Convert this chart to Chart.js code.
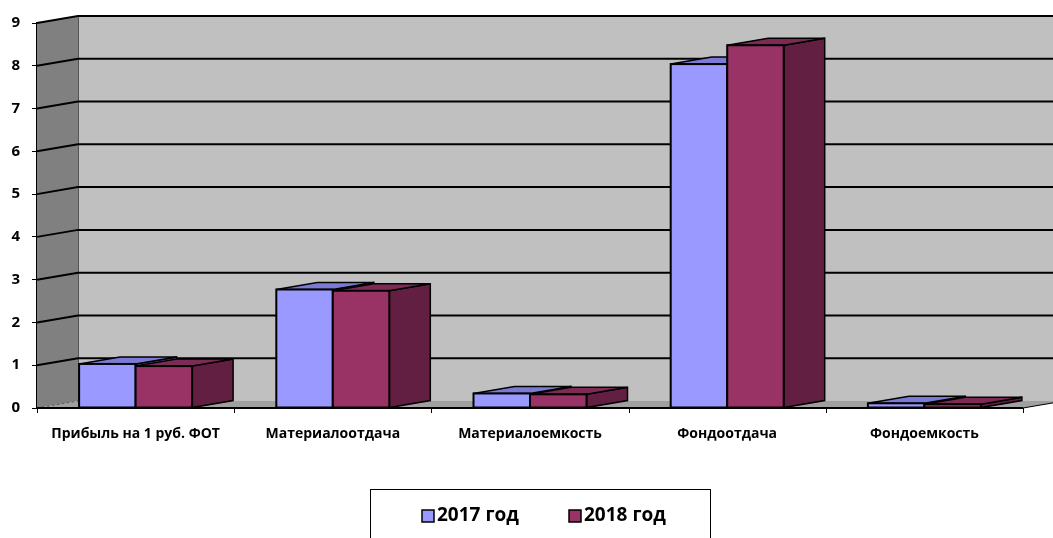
<!DOCTYPE html>
<html>
<head>
<meta charset="utf-8">
<script src="https://cdn.jsdelivr.net/npm/chart.js@4.4.0/dist/chart.umd.min.js"></script>
<style>
html,body{margin:0;padding:0;background:#fff;}
#wrap{width:1053px;height:538px;position:relative;}
</style>
</head>
<body>
<div id="wrap"><canvas id="c" width="1053" height="538"></canvas></div>
<script>
const categories = ['Прибыль на 1 руб. ФОТ', 'Материалоотдача', 'Материалоемкость', 'Фондоотдача', 'Фондоемкость'];
const values2017 = [1.03, 2.77, 0.34, 8.04, 0.11];
const values2018 = [0.98, 2.74, 0.32, 8.48, 0.09];
const seriesLabels = ['2017 год', '2018 год'];
const yTicks = [0, 1, 2, 3, 4, 5, 6, 7, 8, 9];

const FONT = '"Open Sans", "DejaVu Sans", sans-serif';
const DX = 41, DY = -7;
const faces = [
  {front: '#9999FF', top: '#7B7BD6', side: '#5E5EA8'},
  {front: '#993366', top: '#7D2A55', side: '#621F42'}
];

const walls = {
  id: 'walls',
  beforeDatasetsDraw(chart) {
    const ctx = chart.ctx;
    const {left: L, right: R, top: T, bottom: B} = chart.chartArea;
    const W = chart.width;
    const ys = chart.scales.y;
    ctx.save();
    ctx.fillStyle = '#C0C0C0';
    ctx.fillRect(L + DX, T + DY, W - (L + DX), B - T);
    ctx.fillStyle = '#808080';
    ctx.beginPath();
    ctx.moveTo(L, T); ctx.lineTo(L + DX, T + DY); ctx.lineTo(L + DX, B + DY); ctx.lineTo(L, B);
    ctx.closePath(); ctx.fill();
    ctx.fillStyle = '#A0A0A0';
    ctx.beginPath();
    ctx.moveTo(L, B); ctx.lineTo(L + DX, B + DY); ctx.lineTo(R + DX, B + DY); ctx.lineTo(R, B);
    ctx.closePath(); ctx.fill();
    ctx.strokeStyle = '#555';
    ctx.lineWidth = 1;
    ctx.beginPath(); ctx.moveTo(L + DX + 0.5, T + DY); ctx.lineTo(L + DX + 0.5, B + DY); ctx.stroke();
    ctx.setLineDash([3, 2]);
    ctx.strokeStyle = '#5a5a5a';
    ctx.beginPath(); ctx.moveTo(L, B); ctx.lineTo(L + DX, B + DY); ctx.stroke();
    ctx.setLineDash([]);
    ctx.strokeStyle = '#000';
    ctx.lineWidth = 2;
    yTicks.forEach(v => {
      if (v === 0) return;
      const y = ys.getPixelForValue(v);
      ctx.beginPath();
      ctx.moveTo(L, y); ctx.lineTo(L + DX, y + DY); ctx.lineTo(W, y + DY);
      ctx.stroke();
    });
    ctx.beginPath(); ctx.moveTo(L, B); ctx.lineTo(R, B); ctx.stroke();
    ctx.lineWidth = 1;
    ctx.beginPath(); ctx.moveTo(R, B); ctx.lineTo(R + DX, B + DY); ctx.stroke();
    const n = categories.length;
    const cw = (R - L) / n;
    for (let i = 0; i <= n; i++) {
      const x = Math.round(L + i * cw) + 0.5;
      ctx.beginPath(); ctx.moveTo(x, B); ctx.lineTo(x, B + 5); ctx.stroke();
    }
    ctx.restore();
  },
  afterDatasetsDraw(chart) {
    const ctx = chart.ctx;
    ctx.save();
    ctx.lineJoin = 'miter';
    const n = categories.length;
    for (let i = 0; i < n; i++) {
      chart.data.datasets.forEach((ds, d) => {
        const el = chart.getDatasetMeta(d).data[i];
        const x0 = el.x - el.width / 2, x1 = el.x + el.width / 2;
        const yT = el.y, yB = el.base;
        const f = faces[d];
        ctx.strokeStyle = '#000';
        ctx.lineWidth = 1.5;
        ctx.fillStyle = f.side;
        ctx.beginPath();
        ctx.moveTo(x1, yT); ctx.lineTo(x1 + DX, yT + DY); ctx.lineTo(x1 + DX, yB + DY); ctx.lineTo(x1, yB);
        ctx.closePath(); ctx.fill(); ctx.stroke();
        ctx.fillStyle = f.top;
        ctx.beginPath();
        ctx.moveTo(x0, yT); ctx.lineTo(x0 + DX, yT + DY); ctx.lineTo(x1 + DX, yT + DY); ctx.lineTo(x1, yT);
        ctx.closePath(); ctx.fill(); ctx.stroke();
        ctx.fillStyle = f.front;
        ctx.fillRect(x0, yT, x1 - x0, yB - yT);
        ctx.lineWidth = 2;
        ctx.strokeRect(x0, yT, x1 - x0, yB - yT);
      });
    }
    ctx.restore();
  },
  afterDraw(chart) {
    const ctx = chart.ctx;
    ctx.save();
    ctx.strokeStyle = '#000';
    ctx.lineWidth = 1;
    ctx.strokeRect(370.5, 489.5, 340, 60);
    const items = [{sq: 422, tx: 437}, {sq: 569, tx: 584}];
    ctx.font = 'bold 19px ' + FONT;
    ctx.textBaseline = 'middle';
    ctx.textAlign = 'left';
    chart.data.datasets.forEach((ds, d) => {
      const it = items[d];
      ctx.fillStyle = ds.backgroundColor;
      ctx.fillRect(it.sq, 510, 12, 12);
      ctx.lineWidth = 1.5;
      ctx.strokeRect(it.sq, 510, 12, 12);
      ctx.fillStyle = '#000';
      ctx.fillText(ds.label, it.tx, 516);
    });
    ctx.restore();
  }
};

new Chart(document.getElementById('c'), {
  type: 'bar',
  data: {
    labels: categories,
    datasets: [
      {label: seriesLabels[0], data: values2017, backgroundColor: faces[0].front, borderWidth: 0},
      {label: seriesLabels[1], data: values2018, backgroundColor: faces[1].front, borderWidth: 0}
    ]
  },
  options: {
    responsive: false,
    animation: false,
    events: [],
    layout: {padding: {top: 23, right: 30, left: 0, bottom: 0}},
    plugins: {legend: {display: false}, tooltip: {enabled: false}},
    datasets: {bar: {categoryPercentage: 0.573, barPercentage: 1.0}},
    scales: {
      x: {
        grid: {display: false},
        border: {display: false},
        ticks: {color: '#000', font: {family: FONT, size: 14, weight: 'bold'}, padding: 10, maxRotation: 0, autoSkip: false},
        afterFit(s) { s.height = 130; }
      },
      y: {
        min: 0, max: 9,
        grid: {display: true, drawOnChartArea: false, drawTicks: true, tickLength: 5, color: '#000', lineWidth: 1},
        border: {display: true, color: '#000', width: 2},
        ticks: {stepSize: 1, color: '#000', font: {family: FONT, size: 15, weight: 'bold'}, padding: 12},
        afterFit(s) { s.width = 37; }
      }
    }
  },
  plugins: [walls]
});
</script>
</body>
</html>
